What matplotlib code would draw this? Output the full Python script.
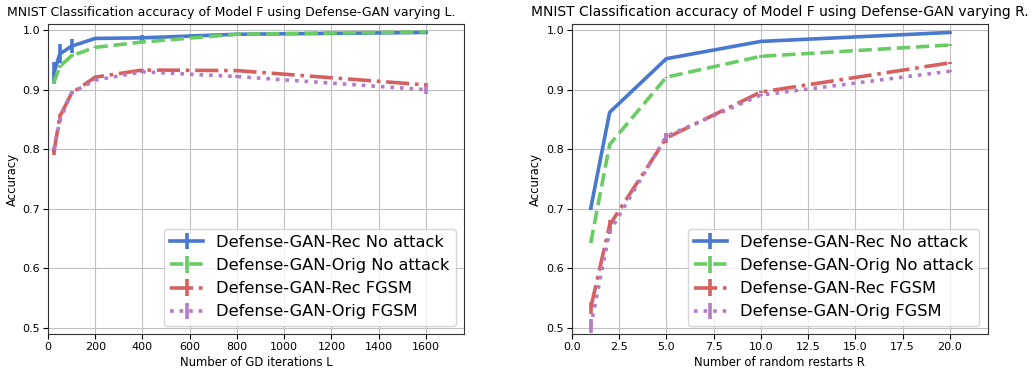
import matplotlib
matplotlib.use('Agg')
from matplotlib import pyplot as plt

# colors of the old seaborn "muted" palette
colors = ['#4878CF', '#6ACC65', '#D65F5F', '#B47CC7']
styles = ['-', '--', '-.', ':']
labels = ['Defense-GAN-Rec No attack', 'Defense-GAN-Orig No attack',
          'Defense-GAN-Rec FGSM', 'Defense-GAN-Orig FGSM']

# varying L (GD iterations)
iters_L = [25, 50, 100, 200, 400, 800, 1600]
rec_clean_L = [0.928, 0.960, 0.973, 0.986, 0.987, 0.993, 0.996]
orig_clean_L = [0.912, 0.939, 0.957, 0.971, 0.980, 0.993, 0.997]
rec_fgsm_L = [0.795, 0.855, 0.894, 0.921, 0.933, 0.932, 0.908]
orig_fgsm_L = [0.800, 0.848, 0.895, 0.916, 0.930, 0.922, 0.900]
err_L = [
    [0.019, 0.016, 0.012, 0.002, 0.005, 0.001, 0.001],
    [0.003, 0.002, 0.003, 0.001, 0.001, 0.001, 0.001],
    [0.004, 0.004, 0.002, 0.002, 0.002, 0.002, 0.004],
    [0.004, 0.003, 0.002, 0.002, 0.002, 0.002, 0.007],
]

# varying R (random restarts)
restarts_R = [1, 2, 5, 10, 20]
rec_clean_R = [0.701, 0.862, 0.952, 0.981, 0.996]
orig_clean_R = [0.643, 0.808, 0.921, 0.956, 0.975]
rec_fgsm_R = [0.534, 0.673, 0.819, 0.896, 0.945]
orig_fgsm_R = [0.503, 0.662, 0.822, 0.891, 0.931]
err_R = [
    [0.001, 0.001, 0.001, 0.001, 0.001],
    [0.001, 0.001, 0.001, 0.003, 0.001],
    [0.010, 0.008, 0.008, 0.002, 0.002],
    [0.012, 0.004, 0.005, 0.002, 0.002],
]

fig, axes = plt.subplots(1, 2, figsize=(10.32, 3.71), dpi=100)
plt.subplots_adjust(left=0.0465, right=0.957, bottom=0.0997, top=0.935, wspace=0.26)

panels = [
    (axes[0], iters_L, [rec_clean_L, orig_clean_L, rec_fgsm_L, orig_fgsm_L], err_L,
     'Number of GD iterations L', 'MNIST Classification accuracy of Model F using Defense-GAN varying L.',
     1760, 9, 0.441),
    (axes[1], restarts_R, [rec_clean_R, orig_clean_R, rec_fgsm_R, orig_fgsm_R], err_R,
     'Number of random restarts R', 'MNIST Classification accuracy of Model F using Defense-GAN varying R.',
     22, 10, 0.5),
]

for ax, xs, series, errs, xlabel, title, xmax, tsize, tx in panels:
    for ys, e, c, ls, lab in zip(series, errs, colors, styles, labels):
        ax.errorbar(xs, ys, yerr=e, color=c, ls=ls, lw=2.6, elinewidth=2.6, label=lab)
    ax.set_xlim(0, xmax)
    ax.set_ylim(0.49, 1.01)
    ax.grid(True, color='#c0c0c0', lw=0.8)
    ax.set_axisbelow(True)
    ax.set_xlabel(xlabel, fontsize=8.4, labelpad=3)
    ax.set_ylabel('Accuracy', fontsize=8.4, labelpad=3)
    ax.set_title(title, fontsize=tsize, x=tx)
    ax.tick_params(labelsize=8, pad=2)
    for s in ax.spines.values():
        s.set_color('#333333')
    ax.legend(loc='lower right', fontsize=11.7)

fig.savefig('out.png')
